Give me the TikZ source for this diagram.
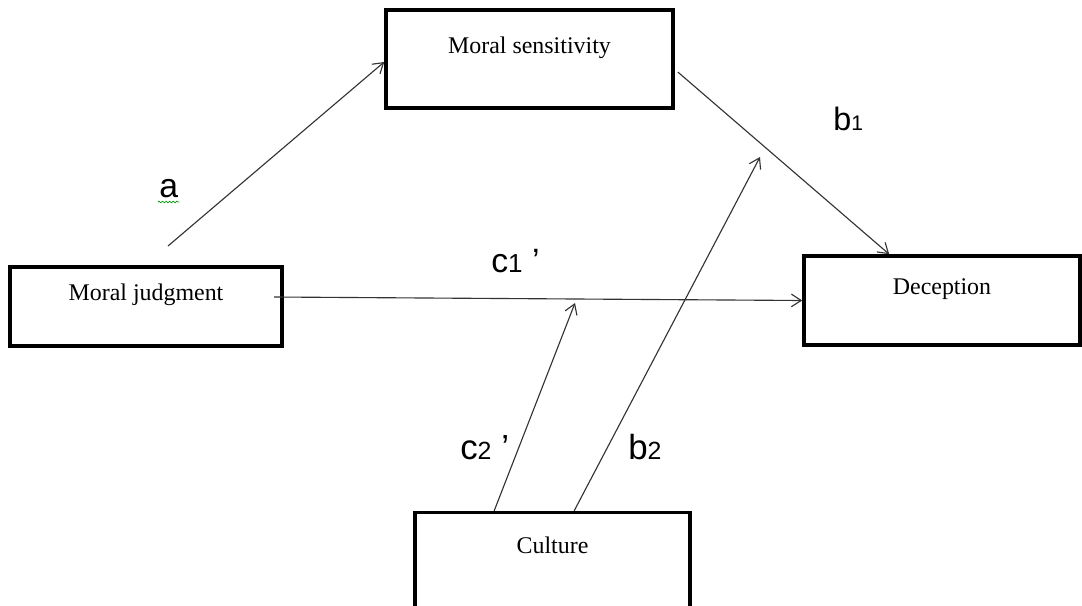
\documentclass[tikz,border=0pt]{standalone}
\usepackage{fontspec}
\setmainfont{Liberation Serif}
\newfontfamily\coeffont{Liberation Sans}
\usetikzlibrary{calc,arrows.meta,decorations.pathmorphing}
\newcommand\coefsize[1]{\fontsize{#1}{#1}\selectfont}

\begin{document}
\begin{tikzpicture} [x=0.025cm, y=-0.025cm,
				construct/.style={
				% The shape:
				rectangle,
				% The border:
     				 draw=black,
				line width=2.5pt,
				% The text, set a bit above the middle:
				font=\fontsize{17}{20}\selectfont,
				text height=12pt,
				text depth=20.5pt
    				},
				path/.style={
				draw=black!80,
				line width=0.8pt,
				-{Straight Barb[length=7pt,width=9pt]}
    				},
				coef/.style={
				font=\coeffont,
				inner sep=0pt,
				anchor=base west
    				},
				]
    \tikzstyle{every node} = [align=center]
    \useasboundingbox (0,0) rectangle (1082,605);
    % boxes
    \node [construct, minimum width=7.175cm, minimum height=2.45cm] (sens) at (529.5,59) {Moral sensitivity};
    \node [construct, minimum width=6.8cm, minimum height=1.975cm] (judg) at (146,306.5) {Moral judgment};
    \node [construct, minimum width=6.9cm, minimum height=2.225cm] (dec) at (942,300.5) {Deception};
    % culture runs off the bottom edge
    \node [construct, minimum width=6.875cm, minimum height=2.55cm, text depth=26.9pt] (cult) at (552.5,563.5) {Culture};
    % free ends
    \coordinate (aStart) at (168,246);
    \coordinate (c1Start) at (274,297);
    \coordinate (c2End) at (575,303);
    \coordinate (b2End) at (760,157);
    % paths
    \draw [path] (aStart) -- ($(sens.west)+(0,3)$);
    \draw [path] ($(sens.east)+(3,13)$) -- ($(dec.north west)+(87,0)$);
    \draw [path] (c1Start) -- (dec.west);
    \draw [path] ($(cult.north west)+(81,0)$) -- (c2End);
    \draw [path] ($(cult.north west)+(161,0)$) -- (b2End);
    % coefficients
    \node [coef, font=\coeffont\coefsize{24}] (aLbl) at (159,197) {a};
    \node [coef, font=\coeffont\coefsize{23}] (b1Lbl) at (833,130) {b{\coefsize{15}1}};
    \node [coef, font=\coeffont\coefsize{24}] (c1Lbl) at (491,272) {c{\coefsize{18.5}1} ’};
    \node [coef, font=\coeffont\coefsize{24.8}] (c2Lbl) at (460,459) {c{\coefsize{17.7}2} ’};
    \node [coef, font=\coeffont\coefsize{24.8}] (b2Lbl) at (628,459) {b{\coefsize{17.7}2}};
    \draw [green!60!black, line width=0.5pt, decorate,
           decoration={snake, amplitude=0.6pt, segment length=2.5pt}]
          ($(aLbl.base west)+(-1,5)$) -- ($(aLbl.base east)+(1,5)$);
\end{tikzpicture}
\end{document}
